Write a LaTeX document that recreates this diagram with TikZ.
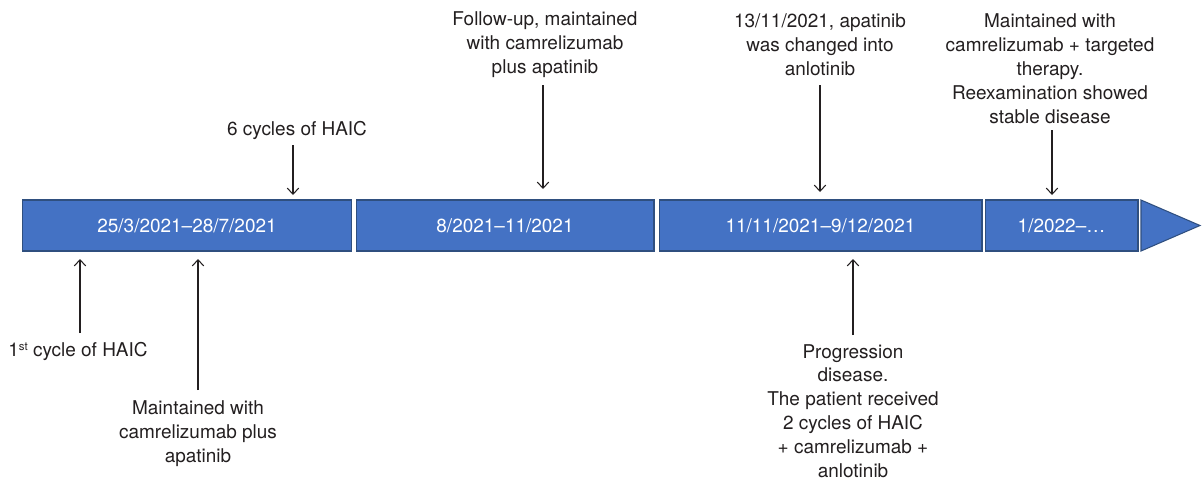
\documentclass[tikz,border=0pt]{standalone}
\usepackage{fontspec}
\setmainfont{TeX Gyre Heros}
\usetikzlibrary{arrows.meta}
\definecolor{barblue}{HTML}{4472C4}
\definecolor{bardark}{HTML}{2F4F7F}
\definecolor{txtgray}{HTML}{231F20}

\begin{document}
\begin{tikzpicture}[x=0.02cm,y=-0.02cm,
  period/.style={draw=bardark,fill=barblue,text=white,line width=0.6pt,
    minimum height=1.02cm,inner sep=0pt},
  event/.style={align=center,text=txtgray,inner sep=1pt},
  pointer/.style={-{Straight Barb[length=3.5pt,width=6.5pt]},line width=0.6pt,color=txtgray}]

  \useasboundingbox (0,0) rectangle (1203,481);
  \fontsize{10.8}{13.6}\selectfont

  % periods along the time bar
  \node[period,minimum width=6.6cm]  (p1) at (187,225.5) {25/3/2021–28/7/2021};
  \node[period,minimum width=5.96cm] (p2) at (505,225.5) {8/2021–11/2021};
  \node[period,minimum width=6.46cm] (p3) at (820.5,225.5) {11/11/2021–9/12/2021};
  \node[period,minimum width=3.06cm] (p4) at (1061.5,225.5) {1/2022–…};

  % arrow head of the time bar
  \draw[draw=bardark,fill=barblue,line width=0.6pt]
    (1141,200) -- (1200,225.5) -- (1141,251) -- cycle;

  % events above the bar
  \node[event] (e2) at (297,130) {6 cycles of HAIC};
  \node[event] (e4) at (545,45) {Follow-up, maintained\\with camrelizumab\\plus apatinib};
  \node[event] (e5) at (820,45) {13/11/2021, apatinib\\was changed into\\anlotinib};
  \node[event] (e7) at (1050,69) {Maintained with\\camrelizumab + targeted\\therapy.\\Reexamination showed\\stable disease};

  % events below the bar
  \node[event] (e1) at (78,351) {1{\fontsize{6.5}{7}\selectfont\raisebox{0.45em}{st}} cycle of HAIC};
  \node[event] (e3) at (198,434) {Maintained with\\camrelizumab plus\\apatinib};
  \node[event] (e6) at (853,411) {Progression\\disease.\\The patient received\\2 cycles of HAIC\\+ camrelizumab +\\anlotinib};

  % arrow ends: s at the label, t at the bar
  \coordinate (s2) at (293,145);   \coordinate (t2) at (293,195);
  \coordinate (s4) at (543,85);    \coordinate (t4) at (543,189);
  \coordinate (s5) at (820,85);    \coordinate (t5) at (820,192);
  \coordinate (s7) at (1052,130);  \coordinate (t7) at (1052,195);
  \coordinate (s1) at (80,333);    \coordinate (t1) at (80,259);
  \coordinate (s3) at (198,390);   \coordinate (t3) at (198,259);
  \coordinate (s6) at (853,335);   \coordinate (t6) at (853,259);

  \foreach \i in {1,...,7}
    \draw[pointer] (s\i) -- (t\i);

\end{tikzpicture}
\end{document}
